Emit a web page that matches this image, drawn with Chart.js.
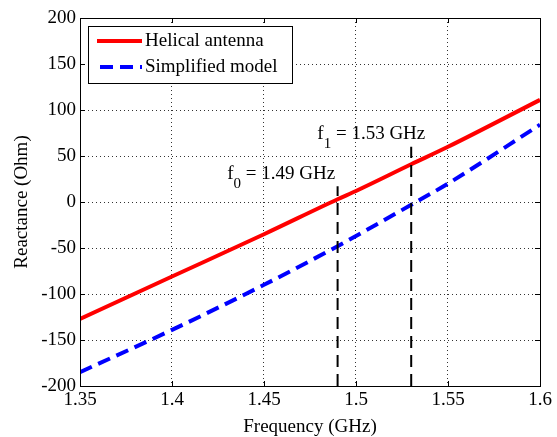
<!DOCTYPE html>
<html>
<head>
<meta charset="utf-8">
<script src="https://cdn.jsdelivr.net/npm/chart.js@4"></script>
<style>
  html, body { margin: 0; padding: 0; background: #fff; }
</style>
</head>
<body>
<canvas id="chart" width="557" height="437"></canvas>
<script>
const freqs = [1.35, 1.40, 1.45, 1.49, 1.50, 1.53, 1.55, 1.60];
const helical = [-127, -81, -35, 3, 12, 41, 60, 111];
const simplified = [-185, -139, -90, -48, -37, -3, 20, 84];

const markerFreqs = [1.49, 1.53];
const markerTops = [17, 60];
const markerSubs = ['0', '1'];
const markerTexts = [' = 1.49 GHz', ' = 1.53 GHz'];
const labelX = [1.43, 1.479];
const labelY = [25, 68];

const xTicks = [1.35, 1.4, 1.45, 1.5, 1.55, 1.6];
const yTicks = [-200, -150, -100, -50, 0, 50, 100, 150, 200];

const FONT = 'Liberation Serif';

const toPoints = (xs, ys) => xs.map((x, i) => ({x: x, y: ys[i]}));

const datasets = [
  {
    label: 'Helical antenna',
    data: toPoints(freqs, helical),
    borderColor: '#ff0000',
    borderWidth: 4,
    pointRadius: 0,
    cubicInterpolationMode: 'monotone',
    order: 2
  },
  {
    label: 'Simplified model',
    data: toPoints(freqs, simplified),
    borderColor: '#0000ff',
    borderWidth: 4,
    borderDash: [13, 7],
    pointRadius: 0,
    cubicInterpolationMode: 'monotone',
    order: 1
  }
];
markerFreqs.forEach((f, i) => {
  datasets.push({
    label: 'marker' + i,
    data: [{x: f, y: -200}, {x: f, y: markerTops[i]}],
    borderColor: '#000',
    borderWidth: 2,
    borderDash: [12, 7],
    pointRadius: 0,
    order: 0
  });
});

const extras = {
  id: 'extras',
  afterDraw(chart) {
    const ctx = chart.ctx;
    const a = chart.chartArea;
    const xs = chart.scales.x, ys = chart.scales.y;
    ctx.save();
    // frame
    ctx.strokeStyle = '#000';
    ctx.lineWidth = 1;
    ctx.setLineDash([]);
    ctx.strokeRect(Math.round(a.left) + 0.5, Math.round(a.top) + 0.5,
      Math.round(a.right - a.left), Math.round(a.bottom - a.top));
    // inward ticks
    ctx.beginPath();
    xTicks.forEach(v => {
      const px = Math.round(xs.getPixelForValue(v)) + 0.5;
      ctx.moveTo(px, a.bottom); ctx.lineTo(px, a.bottom - 5);
      ctx.moveTo(px, a.top); ctx.lineTo(px, a.top + 5);
    });
    yTicks.forEach(v => {
      const py = Math.round(ys.getPixelForValue(v)) + 0.5;
      ctx.moveTo(a.left, py); ctx.lineTo(a.left + 5, py);
      ctx.moveTo(a.right, py); ctx.lineTo(a.right - 5, py);
    });
    ctx.stroke();

    // marker labels
    ctx.fillStyle = '#000';
    ctx.textBaseline = 'alphabetic';
    ctx.textAlign = 'left';
    markerFreqs.forEach((f, i) => {
      const x = xs.getPixelForValue(labelX[i]);
      const y = ys.getPixelForValue(labelY[i]);
      ctx.font = '19px "' + FONT + '"';
      ctx.fillText('f', x, y);
      const w1 = ctx.measureText('f').width;
      ctx.font = '15px "' + FONT + '"';
      ctx.fillText(markerSubs[i], x + w1, y + 9);
      const w2 = ctx.measureText(markerSubs[i]).width;
      ctx.font = '19px "' + FONT + '"';
      ctx.fillText(markerTexts[i], x + w1 + w2, y);
    });

    // legend inside the plot
    const lx = Math.round(a.left) + 8, ly = Math.round(a.top) + 8;
    ctx.fillStyle = '#fff';
    ctx.fillRect(lx, ly, 204, 57);
    ctx.strokeStyle = '#000';
    ctx.lineWidth = 1;
    ctx.strokeRect(lx + 0.5, ly + 0.5, 204, 57);
    [0, 1].forEach(i => {
      const ds = chart.data.datasets[i];
      const yy = ly + 15 + i * 26;
      ctx.strokeStyle = ds.borderColor;
      ctx.lineWidth = ds.borderWidth;
      ctx.setLineDash(ds.borderDash || []);
      ctx.beginPath();
      ctx.moveTo(lx + (i ? 12 : 9), yy);
      ctx.lineTo(lx + 54, yy);
      ctx.stroke();
      ctx.setLineDash([]);
      ctx.fillStyle = '#000';
      ctx.font = '19px "' + FONT + '"';
      ctx.textBaseline = 'middle';
      ctx.fillText(ds.label, lx + 57, yy);
    });
    ctx.restore();
  }
};

new Chart(document.getElementById('chart'), {
  type: 'line',
  data: {datasets: datasets},
  options: {
    responsive: false,
    animation: false,
    devicePixelRatio: 1,
    layout: {padding: {top: 18, right: 17, left: 0, bottom: 0}},
    plugins: {legend: {display: false}, tooltip: {enabled: false}},
    scales: {
      x: {
        type: 'linear',
        min: 1.35,
        max: 1.6,
        afterBuildTicks: s => { s.ticks = xTicks.map(v => ({value: v})); },
        afterFit: s => { s.height = 51; },
        ticks: {
          color: '#000',
          font: {family: FONT, size: 19},
          padding: 3,
          maxRotation: 0,
          autoSkip: false,
          callback: v => String(v)
        },
        grid: {color: '#333', lineWidth: 1, drawTicks: false},
        border: {display: false, dash: [1, 3]},
        title: {display: true, text: 'Frequency (GHz)', color: '#000',
          font: {family: FONT, size: 19, lineHeight: 1}, padding: 0}
      },
      y: {
        type: 'linear',
        min: -200,
        max: 200,
        afterBuildTicks: s => { s.ticks = yTicks.map(v => ({value: v})); },
        afterFit: s => { s.width = 80; },
        ticks: {
          color: '#000',
          font: {family: FONT, size: 19},
          padding: 4,
          autoSkip: false,
          callback: v => String(v)
        },
        grid: {color: '#333', lineWidth: 1, drawTicks: false},
        border: {display: false, dash: [1, 3]},
        title: {display: true, text: 'Reactance (Ohm)', color: '#000',
          font: {family: FONT, size: 19, lineHeight: 1}, padding: {top: 13}}
      }
    }
  },
  plugins: [extras]
});
</script>
</body>
</html>
